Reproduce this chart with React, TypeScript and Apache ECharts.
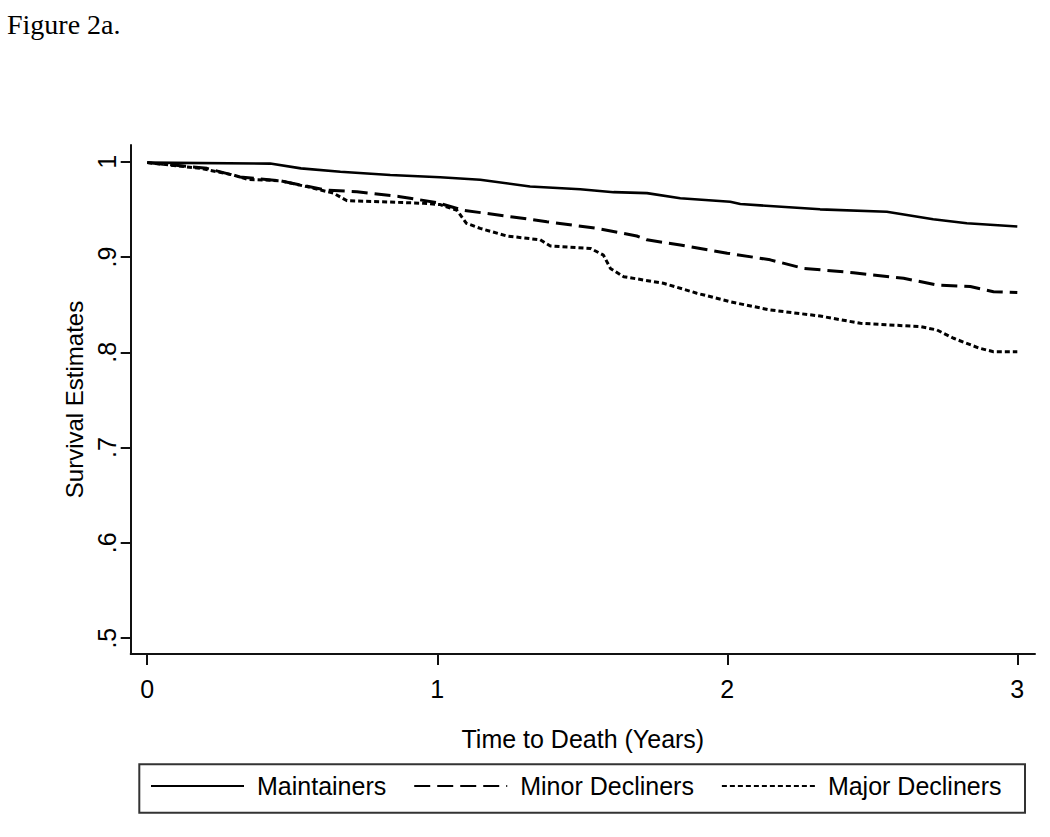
import React, { useEffect, useRef } from "react";
import * as echarts from "echarts";

const seriesNames = ["Maintainers", "Minor Decliners", "Major Decliners"];

const maintTime = [0, 0.424, 0.53, 0.666, 0.838, 1.01, 1.148, 1.32, 1.493, 1.608, 1.723, 1.838, 2.01, 2.045, 2.32, 2.55, 2.71, 2.826, 3.0];
const maintSurv = [0.999, 0.998, 0.993, 0.9895, 0.986, 0.9836, 0.981, 0.974, 0.971, 0.968, 0.967, 0.9616, 0.958, 0.9556, 0.95, 0.9475, 0.9396, 0.9354, 0.932];

const minorTime = [0, 0.206, 0.32, 0.459, 0.528, 0.62, 0.723, 0.872, 1.0, 1.09, 1.26, 1.378, 1.55, 1.688, 1.723, 1.838, 2.0, 2.148, 2.263, 2.435, 2.608, 2.723, 2.838, 2.918, 3.0];
const minorSurv = [0.999, 0.993, 0.984, 0.98, 0.9756, 0.97, 0.9685, 0.9633, 0.957, 0.949, 0.942, 0.937, 0.93, 0.922, 0.918, 0.9126, 0.904, 0.897, 0.888, 0.8835, 0.8776, 0.8706, 0.869, 0.8636, 0.8626];

const majorTime = [0, 0.183, 0.297, 0.344, 0.459, 0.55, 0.642, 0.689, 0.803, 0.953, 1.01, 1.068, 1.1, 1.148, 1.24, 1.355, 1.39, 1.528, 1.573, 1.597, 1.643, 1.78, 1.895, 2.01, 2.148, 2.32, 2.459, 2.666, 2.723, 2.78, 2.87, 2.918, 3.0];
const majorSurv = [0.999, 0.993, 0.986, 0.9815, 0.98, 0.9738, 0.967, 0.959, 0.958, 0.9563, 0.955, 0.949, 0.9354, 0.93, 0.922, 0.918, 0.9115, 0.909, 0.902, 0.888, 0.8793, 0.8724, 0.862, 0.853, 0.8444, 0.838, 0.8304, 0.8269, 0.8234, 0.8147, 0.8042, 0.8006, 0.8006];

const xTicks = [0, 1, 2, 3];
const yTicks = [0.5, 0.6, 0.7, 0.8, 0.9, 1];

const SANS = "'Liberation Sans', Arial, sans-serif";

function pairs(t: number[], v: number[]) {
  return t.map((x, i) => [x, v[i]]);
}

export default function App() {
  const ref = useRef<HTMLDivElement>(null);
  useEffect(() => {
    if (!ref.current) return;
    const chart = echarts.init(ref.current, null, { renderer: "svg" });
    const lineBase = { type: "line", symbol: "none", smooth: false, showSymbol: false };
    chart.setOption({
      animation: false,
      backgroundColor: "#fff",
      title: {
        text: "Figure 2a.",
        left: 7,
        top: 10,
        padding: 0,
        textStyle: { fontFamily: "'Liberation Serif', 'Times New Roman', serif", fontSize: 28, fontWeight: "normal", color: "#000" },
      },
      grid: { left: 130.7, right: 15, top: 145, bottom: 183, containLabel: false },
      xAxis: {
        type: "value",
        min: -0.057,
        max: 3.061,
        name: "Time to Death (Years)",
        nameLocation: "middle",
        nameGap: 72,
        nameTextStyle: { fontFamily: SANS, fontSize: 25, color: "#000" },
        axisLine: { show: true, onZero: false, lineStyle: { color: "#111", width: 2 } },
        axisTick: { show: true, customValues: xTicks, length: 11, lineStyle: { color: "#111", width: 2 } },
        axisLabel: { customValues: xTicks, fontFamily: SANS, fontSize: 25, color: "#000", margin: 22, formatter: (v: number) => String(v) },
        splitLine: { show: false },
      },
      yAxis: {
        type: "value",
        min: 0.4834,
        max: 1.0175,
        name: "Survival Estimates",
        nameLocation: "middle",
        nameGap: 44,
        nameRotate: 90,
        nameTextStyle: { fontFamily: SANS, fontSize: 24, color: "#000" },
        axisLine: { show: true, onZero: false, lineStyle: { color: "#111", width: 2 } },
        axisTick: { show: true, customValues: yTicks, length: 10, lineStyle: { color: "#111", width: 2 } },
        axisLabel: {
          customValues: yTicks,
          rotate: 90,
          fontFamily: SANS,
          fontSize: 25,
          color: "#000",
          margin: 11,
          formatter: (v: number) => (Math.abs(v - 1) < 1e-9 ? "1" : "." + Math.round(v * 10)),
        },
        splitLine: { show: false },
      },
      legend: {
        data: seriesNames,
        left: 150,
        top: 772,
        padding: 0,
        itemWidth: 93,
        itemHeight: 14,
        itemGap: 27,
        selectedMode: false,
        itemStyle: { color: "rgba(0,0,0,0)", borderWidth: 0, opacity: 0 },
        textStyle: { fontFamily: SANS, fontSize: 25, color: "#000", padding: [0, 0, 0, 8], lineHeight: 28 },
      },
      graphic: [
        {
          type: "rect",
          shape: { x: 139.3, y: 764.3, width: 885.7, height: 48.4 },
          style: { fill: "none", stroke: "#333", lineWidth: 2 },
          silent: true,
        },
      ],
      series: [
        { ...lineBase, name: seriesNames[0], data: pairs(maintTime, maintSurv), lineStyle: { color: "#000", width: 2.6, type: "solid" }, itemStyle: { color: "#000" } },
        { ...lineBase, name: seriesNames[1], data: pairs(minorTime, minorSurv), lineStyle: { color: "#000", width: 3, type: [16, 7] }, itemStyle: { color: "#000" } },
        { ...lineBase, name: seriesNames[2], data: pairs(majorTime, majorSurv), lineStyle: { color: "#000", width: 3, type: [5, 3] }, itemStyle: { color: "#000" } },
      ],
    });
    return () => chart.dispose();
  }, []);
  return <div ref={ref} style={{ position: "absolute", left: 0, top: 0, width: 1050, height: 837 }} />;
}
